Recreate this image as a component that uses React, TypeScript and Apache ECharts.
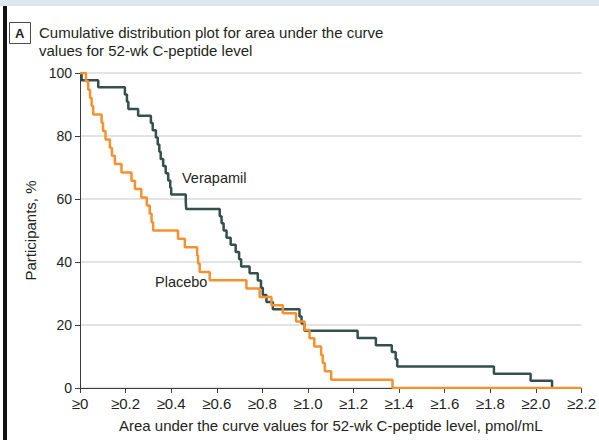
import React, { useEffect, useRef } from "react";
import * as echarts from "echarts";

// AUC thresholds (pmol/mL) at which each cumulative curve steps down, and the level after the step (%)
const verapamilAUC = [0, 0.007, 0.080, 0.197, 0.206, 0.212, 0.255, 0.311, 0.319, 0.333, 0.341, 0.348, 0.354, 0.365, 0.376, 0.387, 0.396, 0.400, 0.464, 0.466, 0.613, 0.621, 0.630, 0.643, 0.661, 0.683, 0.698, 0.707, 0.744, 0.780, 0.794, 0.802, 0.818, 0.846, 0.963, 0.972, 0.985, 1.218, 1.298, 1.368, 1.385, 1.392, 1.816, 1.977, 2.071];
const verapamilPct = [100, 97.7, 95.5, 93.2, 90.9, 88.6, 86.4, 84.1, 81.8, 79.5, 77.3, 75.0, 72.7, 70.5, 68.2, 65.9, 63.6, 61.4, 59.1, 56.8, 54.5, 52.3, 50.0, 47.7, 45.5, 43.2, 40.9, 38.6, 36.4, 34.1, 31.8, 29.5, 27.3, 25.0, 22.7, 20.5, 18.2, 15.9, 13.6, 11.4, 9.1, 6.8, 4.5, 2.3, 0];

const placeboAUC = [0, 0.026, 0.036, 0.044, 0.051, 0.058, 0.095, 0.101, 0.112, 0.131, 0.140, 0.153, 0.182, 0.226, 0.241, 0.269, 0.293, 0.306, 0.314, 0.321, 0.430, 0.460, 0.514, 0.518, 0.525, 0.569, 0.730, 0.788, 0.840, 0.890, 0.948, 0.985, 1.007, 1.028, 1.058, 1.065, 1.074, 1.102, 1.371, 2.2];
const placeboPct = [100, 97.4, 94.7, 92.1, 89.5, 86.8, 84.2, 81.6, 78.9, 76.3, 73.7, 71.1, 68.4, 65.8, 63.2, 60.5, 57.9, 55.3, 52.6, 50.0, 47.4, 44.7, 42.1, 39.5, 36.8, 34.2, 31.6, 28.9, 26.3, 23.7, 21.1, 18.4, 15.8, 13.2, 10.5, 7.9, 5.3, 2.6, 0, 0];

const xTickValues = [0, 0.2, 0.4, 0.6, 0.8, 1.0, 1.2, 1.4, 1.6, 1.8, 2.0, 2.2];
const xTickLabels = ["≥0", "≥0.2", "≥0.4", "≥0.6", "≥0.8", "≥1.0", "≥1.2", "≥1.4", "≥1.6", "≥1.8", "≥2.0", "≥2.2"];

const seriesNames = ["Verapamil", "Placebo"];
const titleLines = ["Cumulative distribution plot for area under the curve", "values for 52-wk C-peptide level"];
const panelLetter = "A";
const xAxisName = "Area under the curve values for 52-wk C-peptide level, pmol/mL";
const yAxisName = "Participants, %";

const FONT = "'Liberation Sans', Arial, sans-serif";
const TEXT = "#231f20";
const DARK = "#33504c";
const ORANGE = "#f5912e";

export default function App() {
  const ref = useRef<HTMLDivElement>(null);

  useEffect(() => {
    if (!ref.current) return;
    const chart = echarts.init(ref.current, undefined, { renderer: "svg" });
    const pairs = (xs: number[], ys: number[]) => xs.map((x, i) => [x, ys[i]]);

    chart.setOption({
      animation: false,
      backgroundColor: "#ffffff",
      textStyle: { fontFamily: FONT },
      grid: { left: 80, right: 16, top: 73, bottom: 52, containLabel: false },
      xAxis: {
        type: "value",
        min: 0,
        max: 2.2,
        interval: 0.2,
        name: xAxisName,
        nameLocation: "middle",
        nameGap: 30,
        nameTextStyle: { fontFamily: FONT, fontSize: 15, color: TEXT },
        axisLine: { show: true, lineStyle: { color: "#3c3c3c", width: 1 } },
        axisTick: { show: true, length: 5, lineStyle: { color: "#3c3c3c" } },
        axisLabel: {
          margin: 8,
          fontFamily: FONT,
          fontSize: 15,
          color: TEXT,
          formatter: (v: number) => {
            const i = xTickValues.findIndex((t) => Math.abs(t - v) < 1e-6);
            return i >= 0 ? xTickLabels[i] : "";
          },
        },
        splitLine: { show: false },
      },
      yAxis: {
        type: "value",
        min: 0,
        max: 100,
        interval: 20,
        name: yAxisName,
        nameLocation: "middle",
        nameGap: 40,
        nameTextStyle: { fontFamily: FONT, fontSize: 15, color: TEXT },
        axisLine: { show: true, lineStyle: { color: "#3c3c3c", width: 1 } },
        axisTick: { show: true, length: 5, lineStyle: { color: "#3c3c3c" } },
        axisLabel: { margin: 8, fontFamily: FONT, fontSize: 14, color: TEXT },
        splitLine: { show: true, lineStyle: { color: "#dadada", width: 1.5 } },
      },
      series: [
        {
          name: seriesNames[0],
          type: "line",
          step: "end",
          showSymbol: false,
          data: pairs(verapamilAUC, verapamilPct),
          lineStyle: { color: DARK, width: 2.5 },
          itemStyle: { color: DARK },
          z: 3,
        },
        {
          name: seriesNames[1],
          type: "line",
          step: "end",
          showSymbol: false,
          data: pairs(placeboAUC, placeboPct),
          lineStyle: { color: ORANGE, width: 2.5 },
          itemStyle: { color: ORANGE },
          z: 4,
        },
      ],
      graphic: [
        { type: "rect", silent: true, shape: { x: 0, y: 0, width: 599, height: 6 }, style: { fill: "#dfe7ee" } },
        { type: "rect", silent: true, shape: { x: 3, y: 6, width: 4, height: 434 }, style: { fill: "#111111" } },
        { type: "rect", silent: true, shape: { x: 9.5, y: 22.5, width: 21, height: 21 }, style: { fill: "#ffffff", stroke: "#4a4a4a", lineWidth: 1 } },
        { type: "text", silent: true, x: 15, y: 27, style: { text: panelLetter, fontFamily: FONT, fontSize: 13, fontWeight: "bold", fill: TEXT } },
        { type: "text", silent: true, x: 39, y: 25, style: { text: titleLines[0], fontFamily: FONT, fontSize: 15, fill: TEXT } },
        { type: "text", silent: true, x: 39, y: 43, style: { text: titleLines[1], fontFamily: FONT, fontSize: 15, fill: TEXT } },
        { type: "text", silent: true, x: 182, y: 170, style: { text: seriesNames[0], fontFamily: FONT, fontSize: 14.5, fill: TEXT } },
        { type: "text", silent: true, x: 155, y: 274, style: { text: seriesNames[1], fontFamily: FONT, fontSize: 14.5, fill: TEXT } },
      ],
    });

    return () => chart.dispose();
  }, []);

  return (
    <div style={{ position: "absolute", left: 0, top: 0, width: 599, height: 440, background: "#fff" }}>
      <div ref={ref} style={{ width: 599, height: 440 }} />
    </div>
  );
}
